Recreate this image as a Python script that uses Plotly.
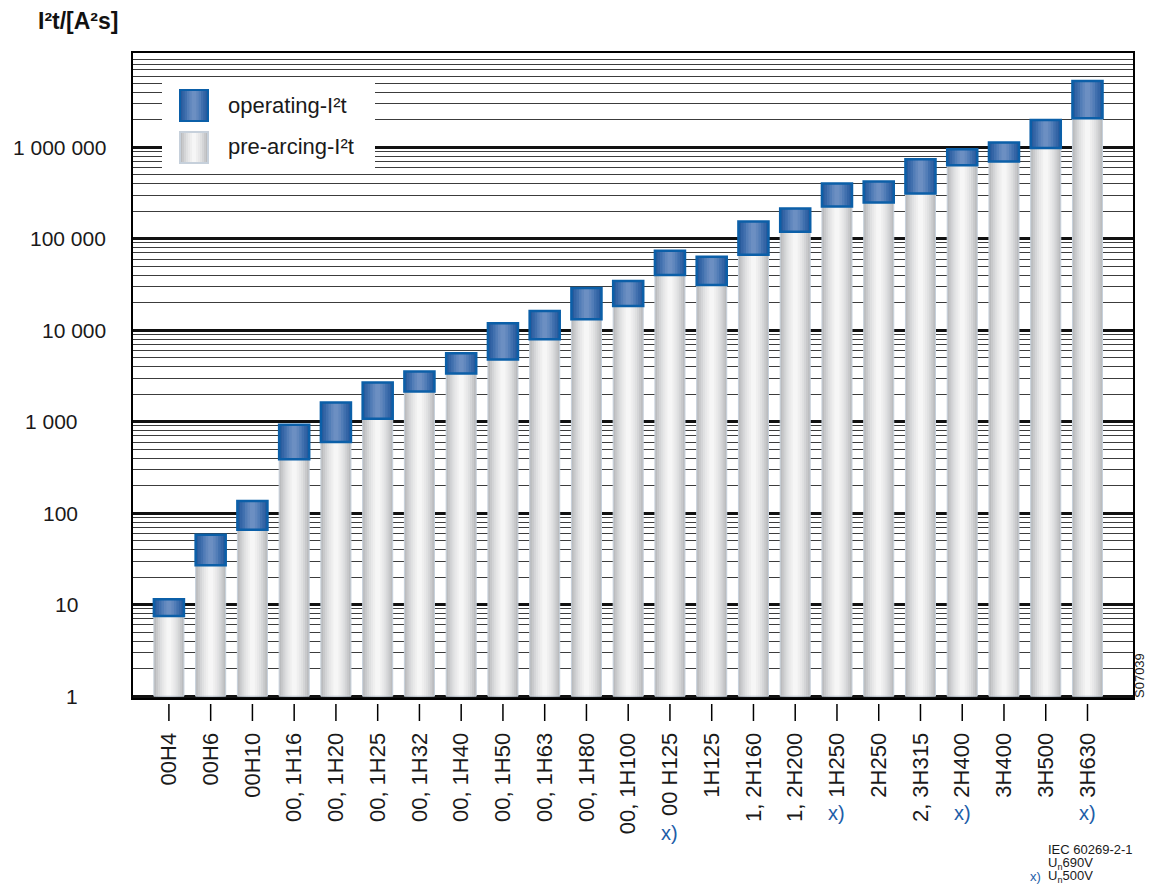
import math
import plotly.graph_objects as go

# ---------------- data ----------------
categories = ["00H4", "00H6", "00H10", "00, 1H16", "00, 1H20", "00, 1H25", "00, 1H32",
              "00, 1H40", "00, 1H50", "00, 1H63", "00, 1H80", "00, 1H100", "00 H125",
              "1H125", "1, 2H160", "1, 2H200", "1H250", "2H250", "2, 3H315", "2H400",
              "3H400", "3H500", "3H630"]
pre_arcing = [7.5, 27, 66, 388, 600, 1080, 2140, 3370, 4800, 7960, 13200, 18400, 40200,
              31200, 66700, 119000, 225000, 249000, 312000, 634000, 700000, 980000, 2080000]
operating = [11.5, 58, 136, 926, 1620, 2680, 3540, 5590, 11900, 16200, 29000, 34500, 73800,
             63400, 154000, 214000, 402000, 423000, 738000, 950000, 1130000, 1980000, 5300000]
marked_500V = ["00 H125", "1H250", "2H400", "3H630"]
y_tickvals = [1, 10, 100, 1000, 10000, 100000, 1000000]
y_ticktext = ["1", "10", "100", "1 000", "10 000", "100 000", "1 000 000"]

# ---------------- geometry helpers (pixel -> paper) ----------------
# the html page body has an 8px margin, so the figure is shrunk to fit the window
OFF = 8
L, R, T, B = 133 - OFF, 1133 - OFF, 53 - OFF, 698 - OFF
W, H = 1155 - 2 * OFF, 893 - 2 * OFF


def px(x):
    return (x - OFF - L) / (R - L)


def py(y):
    return (B - (y - OFF)) / (B - T)


idx = list(range(len(categories)))
FONT = "Liberation Sans, Arial, Helvetica, sans-serif"
BLUE_TXT = "#1d5ea8"

fig = go.Figure()

# gray (pre-arcing) cylinders: pseudo-gradient by overlaid narrower bars
gray_layers = [(0.72, "#bbbcbe"), (0.62, "#c8c9cb"), (0.52, "#d4d5d7"), (0.42, "#dfe0e1"),
               (0.32, "#e8e8e9"), (0.22, "#efefef"), (0.12, "#f6f6f6")]
for w, c in gray_layers:
    fig.add_trace(go.Bar(x=idx, y=[p - 1 for p in pre_arcing], base=[1] * len(idx), width=w,
                         marker=dict(color=c, line=dict(width=0)),
                         showlegend=False, hoverinfo="skip"))
fig.add_trace(go.Bar(x=idx, y=[p - 1 for p in pre_arcing], base=[1] * len(idx), width=0.72,
                     marker=dict(color="rgba(0,0,0,0)", line=dict(color="#c6d0db", width=1)),
                     showlegend=False, hoverinfo="skip"))

# blue (operating) caps
blue_layers = [(0.72, "#285a9c"), (0.60, "#3465a6"), (0.48, "#4170ae"), (0.36, "#527db7"),
               (0.24, "#6187bd"), (0.12, "#6c8fc2")]
for w, c in blue_layers:
    fig.add_trace(go.Bar(x=idx, y=[o - p for o, p in zip(operating, pre_arcing)], base=pre_arcing,
                         width=w, marker=dict(color=c, line=dict(width=0)),
                         showlegend=False, hoverinfo="skip"))
fig.add_trace(go.Bar(x=idx, y=[o - p for o, p in zip(operating, pre_arcing)], base=pre_arcing,
                     width=0.72,
                     marker=dict(color="rgba(0,0,0,0)", line=dict(color="#0b5fa8", width=2.5)),
                     showlegend=False, hoverinfo="skip"))

minor_vals = [m * 10 ** k for k in range(0, 7) for m in range(2, 10)]

fig.update_layout(
    width=W, height=H,
    margin=dict(l=L, r=W - R, t=T, b=H - B, pad=0),
    plot_bgcolor="white", paper_bgcolor="white",
    barmode="overlay", showlegend=False,
    font=dict(family=FONT, color="#1a1a1a"),
    xaxis=dict(range=[-0.86, 23.09], tickmode="array", tickvals=idx, ticktext=categories,
               tickangle=-90, ticks="", ticklabelstandoff=24,
               tickfont=dict(size=22, family=FONT, color="#1a1a1a"),
               showgrid=False, zeroline=False, showline=True, linecolor="black",
               linewidth=2, mirror=True),
    yaxis=dict(type="log", range=[-0.02, 7.03], tickmode="array", tickvals=y_tickvals,
               ticktext=y_ticktext, ticks="", showticklabels=False,
               showgrid=True, gridcolor="#111111", gridwidth=2.5,
               minor=dict(tickmode="array", tickvals=minor_vals, showgrid=True,
                          gridcolor="#3c3c3c", gridwidth=1.3, ticks=""),
               zeroline=False, showline=True, linecolor="black", linewidth=2, mirror=True),
)

shapes = []
# x tick marks (detached from the axis line)
for i in idx:
    shapes.append(dict(type="line", xref="x", yref="paper", x0=i, x1=i,
                       y0=py(704), y1=py(721), line=dict(color="black", width=1.5)))

# legend box
shapes.append(dict(type="rect", xref="paper", yref="paper", x0=px(162), x1=px(375),
                   y0=py(171), y1=py(83), fillcolor="white", line=dict(width=0), layer="above"))


def swatch(x0, x1, y0, y1, colors, border):
    n = len(colors)
    cx = (x0 + x1) / 2
    half = (x1 - x0) / 2
    for k, c in enumerate(colors):
        h = half * (1 - k / n)
        shapes.append(dict(type="rect", xref="paper", yref="paper", x0=px(cx - h), x1=px(cx + h),
                           y0=py(y1), y1=py(y0), fillcolor=c, line=dict(width=0), layer="above"))
    shapes.append(dict(type="rect", xref="paper", yref="paper", x0=px(x0), x1=px(x1),
                       y0=py(y1), y1=py(y0), fillcolor="rgba(0,0,0,0)",
                       line=dict(color=border, width=2), layer="above"))


swatch(180, 208, 90, 121, [c for _, c in blue_layers], "#0b5fa8")
swatch(180, 208, 132, 163, [c for _, c in gray_layers], "#c6d0db")

annotations = [
    dict(text="operating-I²t", x=px(226), y=py(105), xref="paper", yref="paper",
         xanchor="left", yanchor="middle", showarrow=False, font=dict(size=22, family=FONT)),
    dict(text="pre-arcing-I²t", x=px(226), y=py(146), xref="paper", yref="paper",
         xanchor="left", yanchor="middle", showarrow=False, font=dict(size=22, family=FONT)),
    dict(text="<b>I²t/[A²s]</b>", x=px(36), y=py(21), xref="paper", yref="paper",
         xanchor="left", yanchor="middle", showarrow=False,
         font=dict(size=23, family=FONT, color="#111111")),
    dict(text="S07039", x=px(1139), y=py(676), xref="paper", yref="paper",
         xanchor="center", yanchor="middle", textangle=-90, showarrow=False,
         font=dict(size=13, family=FONT)),
    dict(text="IEC 60269-2-1", x=px(1046), y=py(849), xref="paper", yref="paper",
         xanchor="left", yanchor="middle", showarrow=False, font=dict(size=13, family=FONT)),
    dict(text="U<sub>n</sub>690V", x=px(1046), y=py(863), xref="paper", yref="paper",
         xanchor="left", yanchor="middle", showarrow=False, font=dict(size=13, family=FONT)),
    dict(text="U<sub>n</sub>500V", x=px(1046), y=py(877), xref="paper", yref="paper",
         xanchor="left", yanchor="middle", showarrow=False, font=dict(size=13, family=FONT)),
    dict(text="x)", x=px(1028), y=py(877), xref="paper", yref="paper",
         xanchor="left", yanchor="middle", showarrow=False,
         font=dict(size=13, family=FONT, color=BLUE_TXT)),
]

# y-axis value labels (the small ones sit further left, as in the source chart)
for v, t in zip(y_tickvals, y_ticktext):
    right_px = 108 if v >= 10000 else 80
    annotations.append(dict(text=t, x=px(right_px), xref="paper", y=math.log10(v), yref="y",
                            xanchor="right", yanchor="middle", showarrow=False,
                            font=dict(size=21, family=FONT, color="#1a1a1a")))

for name in marked_500V:
    i = categories.index(name)
    annotations.append(dict(text="x)", x=i, xref="x", y=py(763 + 10 * len(name)), yref="paper",
                            xanchor="center", yanchor="middle", showarrow=False,
                            font=dict(size=20, family=FONT, color=BLUE_TXT)))

fig.update_layout(shapes=shapes, annotations=annotations)

fig.write_html("out.html")
